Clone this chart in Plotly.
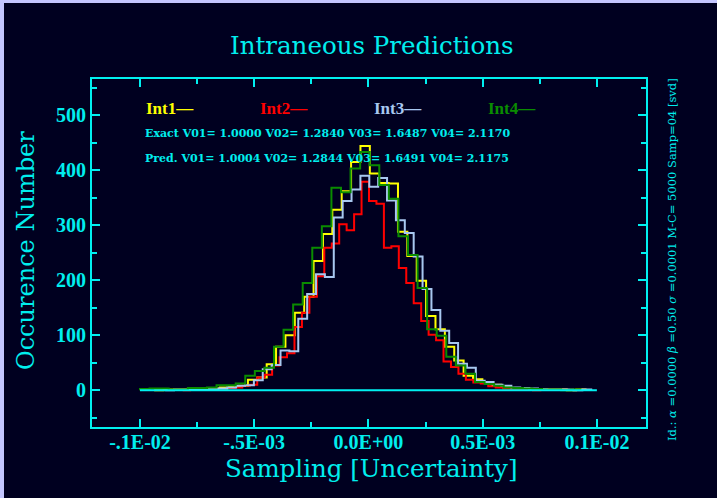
import numpy as np
import plotly.graph_objects as go

# ---------------- data ----------------
series_names = ["Int1", "Int2", "Int3", "Int4"]

# Int1 (yellow) histogram: first bin edge, bin width, counts
int1_x0, int1_dx = -9.38e-4, 4.105e-5
int1_counts = [0, 1, 1, 1, 2, 2, 3, 5, 6, 8, 19, 23, 47, 79, 100, 141, 170, 235, 284, 328,
               362, 415, 444, 394, 377, 376, 288, 244, 199, 135, 111, 79, 54, 26, 20, 14, 10, 7, 4, 4,
               2, 2, 1, 1, 0, 1]

# Int2 (red)
int2_x0, int2_dx = -8.13e-4, 3.262e-5
int2_counts = [0, 1, 1, 1, 1, 2, 4, 5, 8, 10, 23, 28, 45, 60, 67, 115, 141, 170, 207, 259,
               267, 302, 291, 320, 379, 344, 339, 259, 262, 222, 195, 158, 126, 101, 91, 52, 42, 30, 19, 14,
               12, 7, 5, 3, 2, 1, 1, 0, 1]

# Int3 (light blue)
int3_x0, int3_dx = -8.90e-4, 3.886e-5
int3_counts = [0, 1, 1, 1, 1, 2, 3, 5, 8, 9, 18, 38, 46, 72, 71, 130, 175, 211, 206, 314,
               344, 365, 390, 370, 386, 345, 309, 286, 243, 184, 146, 108, 86, 48, 41, 17, 15, 10, 8, 5,
               4, 3, 2, 1, 1, 1, 0, 1]

# Int4 (green)
int4_x0, int4_dx = -1.0e-3, 4.19e-5
int4_counts = [2, 3, 3, 1, 1, 4, 4, 5, 9, 9, 12, 26, 35, 41, 79, 110, 156, 195, 259, 298,
               368, 360, 403, 433, 409, 373, 348, 280, 246, 186, 111, 99, 61, 45, 30, 15, 11, 8, 5, 4,
               3, 2, 1, 1, 0, 1]

baseline_x = [-1.0e-3, 1.0e-3]
baseline_y = [0, 0]

x_tickvals = [-1.0e-3, -5.0e-4, 0.0, 5.0e-4, 1.0e-3]
x_ticktext = ["-.1E-02", "-.5E-03", "0.0E+00", "0.5E-03", "0.1E-02"]
y_tickvals = [0, 100, 200, 300, 400, 500]

exact_text = "Exact V01= 1.0000 V02= 1.2840 V03= 1.6487 V04= 2.1170"
pred_text = "Pred. V01= 1.0004 V02= 1.2844 V03= 1.6491 V04= 2.1175"
side_text = ("Id.: <i>α</i> =0.0000 <i>β</i> =0.50 <i>σ</i> =0.0001 "
             "M-C= 5000 Samp=04 [svd]")

# ---------------- style ----------------
BG = "#000020"
CYAN = "#00eeee"
AXC = "#00f0f0"
colors = ["#ffff00", "#ff0000", "#a8c8f0", "#0a8c00"]
SERIF = "Liberation Serif"
WSERIF = "DejaVu Serif"

fig = go.Figure()

hists = [(int1_x0, int1_dx, int1_counts),
         (int2_x0, int2_dx, int2_counts),
         (int3_x0, int3_dx, int3_counts),
         (int4_x0, int4_dx, int4_counts)]

for name, col, (x0, dx, counts) in zip(series_names, colors, hists):
    n = len(counts)
    edges = x0 + dx * np.arange(n + 1)
    xs = np.concatenate([[edges[0]], edges])
    ys = np.concatenate([[0], counts, [0]])
    fig.add_trace(go.Scatter(x=xs, y=ys, mode="lines", name=name,
                             line=dict(color=col, width=2, shape="hv"),
                             hoverinfo="skip", showlegend=False))

fig.add_trace(go.Scatter(x=baseline_x, y=baseline_y, mode="lines",
                         line=dict(color=AXC, width=2), showlegend=False,
                         hoverinfo="skip"))

L, R, T, B = 92, 71, 79, 71
W, H = 717, 498
pw, ph = W - L - R, H - T - B


def px(xp):
    return (xp - L) / pw


def py(yp):
    return (H - B - yp) / ph


axis_common = dict(showline=True, linecolor=AXC, linewidth=2, mirror="ticks",
                   ticks="inside", ticklen=8, tickwidth=2, tickcolor=AXC,
                   showgrid=False, zeroline=False,
                   tickfont=dict(family=SERIF, size=20, color=CYAN, weight="bold"))

fig.update_xaxes(range=[-1.21e-3, 1.215e-3], tickvals=x_tickvals, ticktext=x_ticktext,
                 ticklabelstandoff=-4,
                 minor=dict(ticks="inside", ticklen=5, tickwidth=2, tickcolor=AXC,
                            dtick=2.5e-4, tick0=0, showgrid=False),
                 **axis_common)
fig.update_yaxes(range=[-67, 566], tickvals=y_tickvals,
                 minor=dict(ticks="inside", ticklen=5, tickwidth=2, tickcolor=AXC,
                            dtick=50, tick0=0, showgrid=False),
                 **axis_common)

annotations = []
# Title
annotations.append(dict(text="Intraneous Predictions", x=px(372), y=py(45), xref="paper", yref="paper",
                        showarrow=False, xanchor="center", yanchor="middle",
                        font=dict(family=WSERIF, size=24.5, color=CYAN)))
# Axis titles
annotations.append(dict(text="Sampling [Uncertainty]", x=px(371), y=py(469), xref="paper", yref="paper",
                        showarrow=False, xanchor="center", yanchor="middle",
                        font=dict(family=WSERIF, size=24.5, color=CYAN)))
annotations.append(dict(text="Occurence Number", x=px(26), y=py(251), xref="paper", yref="paper",
                        showarrow=False, xanchor="center", yanchor="middle", textangle=-90,
                        font=dict(family=WSERIF, size=24, color=CYAN)))
# series labels
for i, (name, col) in enumerate(zip(series_names, colors)):
    annotations.append(dict(text="<b>" + name + "—</b>", x=px(144 + 114 * i), y=py(108),
                            xref="paper", yref="paper", showarrow=False,
                            xanchor="left", yanchor="middle",
                            font=dict(family=SERIF, size=17, color=col)))
annotations.append(dict(text="<b>" + exact_text + "</b>", x=px(143), y=py(133), xref="paper",
                        yref="paper", showarrow=False, xanchor="left", yanchor="middle",
                        font=dict(family=WSERIF, size=11, color=CYAN)))
annotations.append(dict(text="<b>" + pred_text + "</b>", x=px(143), y=py(158), xref="paper",
                        yref="paper", showarrow=False, xanchor="left", yanchor="middle",
                        font=dict(family=WSERIF, size=11, color=CYAN)))
annotations.append(dict(text=side_text, x=px(672), y=py(260), xref="paper", yref="paper",
                        showarrow=False, xanchor="center", yanchor="middle", textangle=-90,
                        font=dict(family=WSERIF, size=11.5, color=CYAN)))

shapes = [dict(type="rect", xref="paper", yref="paper", layer="below",
               x0=px(4), x1=px(W + 5), y0=py(H + 5), y1=py(3),
               fillcolor=BG, line=dict(width=0))]

fig.update_layout(width=W, height=H, margin=dict(l=L, r=R, t=T, b=B),
                  paper_bgcolor="#c4c6ff", plot_bgcolor=BG,
                  annotations=annotations, shapes=shapes, showlegend=False)

fig.write_html("out.html")
